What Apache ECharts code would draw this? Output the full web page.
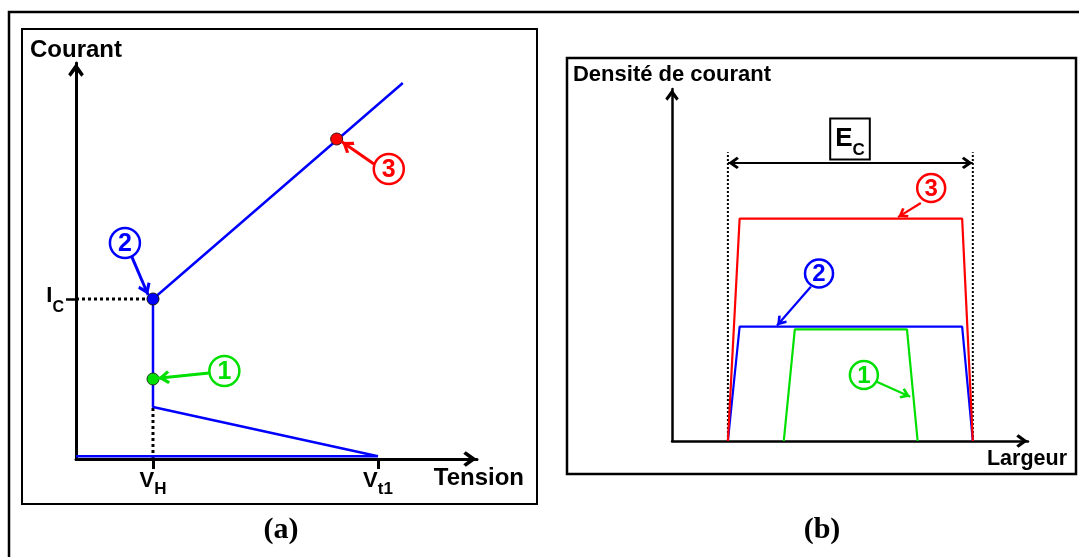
<!DOCTYPE html>
<html><head><meta charset="utf-8">
<script src="https://cdn.jsdelivr.net/npm/echarts@6/dist/echarts.min.js"></script>
<style>html,body{margin:0;padding:0;background:#fff}#c{width:1079px;height:557px}</style>
</head><body><div id="c"></div>
<script>
// ---------- Panel (a): Courant vs Tension ----------
const xTicksA = [1.92, 7.53];            // V_H, V_t1
const xTickMainA = ['V', 'V'];
const xTickSubA = ['H', 't1'];
const yTicksA = [4.0];                   // I_C
const yTickMainA = ['I'];
const yTickSubA = ['C'];
const curveA = [[0, 0.07], [7.53, 0.07], [1.92, 1.3], [1.92, 4.0], [8.15, 9.4]];
const icGuideA = [[0, 4.0], [1.92, 4.0]];
const vhGuideA = [[1.92, 0], [1.92, 1.3]];
const point1A = [1.92, 2.0];
const point2A = [1.92, 4.0];
const point3A = [6.5, 8.0];
const circleLabelsA = ['1', '2', '3'];
const circlePosA = [[3.7, 2.2], [1.22, 5.4], [7.8, 7.25]];
const arrow1A = [[3.32, 2.15], [2.04, 2.02]];
const arrow2A = [[1.39, 5.06], [1.8, 4.1]];
const arrow3A = [[7.43, 7.375], [6.63, 7.93]];

// ---------- Panel (b): Densité de courant vs Largeur ----------
const curve3B = [[1.57, 0], [1.9, 6.32], [8.15, 6.32], [8.45, 0]];
const curve2B = [[1.57, 0], [1.9, 3.25], [8.15, 3.25], [8.45, 0]];
const curve1B = [[3.14, 0], [3.45, 3.17], [6.6, 3.17], [6.9, 0]];
const ecGuideLeftB = [[1.57, 0], [1.57, 8.2]];
const ecGuideRightB = [[8.45, 0], [8.45, 8.2]];
const ecArrowB = [[1.57, 7.9], [8.45, 7.9]];
const ecLabelPosB = [5.0, 8.58];
const circleLabelsB = ['1', '2', '3'];
const circlePosB = [[5.39, 1.875], [4.13, 4.76], [7.28, 7.19]];
const arrow1B = [[5.75, 1.68], [6.69, 1.26]];
const arrow2B = [[3.9, 4.38], [2.95, 3.28]];
const arrow3B = [[6.99, 6.76], [6.35, 6.36]];

const FONT = "'Liberation Sans', Arial, sans-serif";
const BLUE = '#0000ff', RED = '#ff0000', GREEN = '#00e000';
const ARROW = 'path://M0,0L20,0L0,0Z M10,10 L15.6,17.8 L13.8,19.6 L10,14.6 L6.2,19.6 L4.4,17.8 Z';

function nearestIdx(arr, v) {
  let b = 0;
  arr.forEach((a, i) => { if (Math.abs(a - v) < Math.abs(arr[b] - v)) b = i; });
  return b;
}

const chart = echarts.init(document.getElementById('c'), null, {renderer: 'canvas'});

function arrowSeries(coordsList, color, width, size, gi) {
  return {
    type: 'lines', coordinateSystem: 'cartesian2d', xAxisIndex: gi, yAxisIndex: gi,
    symbol: ['none', ARROW], symbolSize: size, z: 5, silent: true,
    lineStyle: {color: color, width: width, opacity: 1, curveness: 0},
    data: coordsList.map(c => ({coords: c}))
  };
}
function circleSeries(labels, pos, color, size, fs, gi) {
  return {
    type: 'scatter', xAxisIndex: gi, yAxisIndex: gi, symbol: 'circle', symbolSize: size, z: 6,
    itemStyle: {color: '#fff', borderColor: color, borderWidth: 2.5, opacity: 1},
    label: {show: true, position: 'inside', offset: [0, 1], formatter: '{b}', color: color, fontSize: fs, fontWeight: 'bold', fontFamily: FONT},
    data: labels.map((l, i) => ({name: l, value: pos[i]}))
  };
}

const option = {
  animation: false,
  backgroundColor: '#fff',
  graphic: [
    {type: 'rect', shape: {x: 9, y: 12, width: 1100, height: 600}, style: {fill: 'none', stroke: '#000', lineWidth: 2.5}, z: -10},
    {type: 'rect', shape: {x: 22, y: 29, width: 515, height: 475}, style: {fill: 'none', stroke: '#000', lineWidth: 2}, z: -10},
    {type: 'rect', shape: {x: 567, y: 58, width: 509, height: 416}, style: {fill: 'none', stroke: '#000', lineWidth: 2.5}, z: -10},
    {type: 'text', x: 281, y: 530, style: {text: '(a)', align: 'center', verticalAlign: 'middle', font: "bold 30px 'Liberation Serif', 'Times New Roman', serif", fill: '#000'}},
    {type: 'text', x: 822, y: 530, style: {text: '(b)', align: 'center', verticalAlign: 'middle', font: "bold 30px 'Liberation Serif', 'Times New Roman', serif", fill: '#000'}}
  ],
  grid: [
    {left: 76, top: 63, width: 401, height: 396},
    {left: 672, top: 89, width: 356, height: 352}
  ],
  xAxis: [
    {
      type: 'value', gridIndex: 0, min: 0, max: 10,
      axisLine: {show: true, symbol: ['none', ARROW], symbolSize: [28, 28], lineStyle: {color: '#000', width: 3}},
      axisTick: {show: true, customValues: xTicksA, length: 10, lineStyle: {color: '#000', width: 3}},
      axisLabel: {
        show: true, customValues: xTicksA, margin: 5,
        formatter: v => { const i = nearestIdx(xTicksA, v); return '{v|' + xTickMainA[i] + '}{s|' + xTickSubA[i] + '}'; },
        rich: {
          v: {fontSize: 22, fontWeight: 'bold', fontFamily: FONT, color: '#000'},
          s: {fontSize: 17, fontWeight: 'bold', fontFamily: FONT, color: '#000', padding: [17, 0, 0, 0]}
        }
      },
      splitLine: {show: false},
      name: 'Tension', nameLocation: 'end', nameGap: 47,
      nameTextStyle: {fontSize: 24, fontWeight: 'bold', fontFamily: FONT, color: '#000', align: 'right', verticalAlign: 'top', padding: [7, 0, 0, 0]}
    },
    {
      type: 'value', gridIndex: 1, min: 0, max: 10,
      axisLine: {show: true, symbol: ['none', ARROW], symbolSize: [24, 24], lineStyle: {color: '#000', width: 2.5}},
      axisTick: {show: false}, axisLabel: {show: false}, splitLine: {show: false},
      name: 'Largeur', nameLocation: 'end', nameGap: 39,
      nameTextStyle: {fontSize: 21.5, fontWeight: 'bold', fontFamily: FONT, color: '#000', align: 'right', verticalAlign: 'top', padding: [7, 0, 0, 0]}
    }
  ],
  yAxis: [
    {
      type: 'value', gridIndex: 0, min: 0, max: 9.9,
      axisLine: {show: true, symbol: ['none', ARROW], symbolSize: [28, 28], lineStyle: {color: '#000', width: 3}},
      axisTick: {show: true, customValues: yTicksA, length: 10, lineStyle: {color: '#000', width: 2.5}},
      axisLabel: {
        show: true, customValues: yTicksA, margin: 12,
        formatter: v => { const i = nearestIdx(yTicksA, v); return '{v|' + yTickMainA[i] + '}{s|' + yTickSubA[i] + '}'; },
        rich: {
          v: {fontSize: 22, fontWeight: 'bold', fontFamily: FONT, color: '#000', padding: [0, 0, 6, 0]},
          s: {fontSize: 16, fontWeight: 'bold', fontFamily: FONT, color: '#000', padding: [18, 0, 0, 0]}
        }
      },
      splitLine: {show: false},
      name: 'Courant', nameLocation: 'end', nameGap: 1,
      nameTextStyle: {fontSize: 24, fontWeight: 'bold', fontFamily: FONT, color: '#000'}
    },
    {
      type: 'value', gridIndex: 1, min: 0, max: 10,
      axisLine: {show: true, symbol: ['none', ARROW], symbolSize: [24, 24], lineStyle: {color: '#000', width: 2.5}},
      axisTick: {show: false}, axisLabel: {show: false}, splitLine: {show: false},
      name: 'Densité de courant', nameLocation: 'end', nameGap: 3,
      nameTextStyle: {fontSize: 22, fontWeight: 'bold', fontFamily: FONT, color: '#000'}
    }
  ],
  series: [
    // Panel (a)
    {type: 'line', xAxisIndex: 0, yAxisIndex: 0, data: icGuideA, symbol: 'none', z: 2,
     lineStyle: {color: '#000', width: 3, type: [3, 3]}},
    {type: 'line', xAxisIndex: 0, yAxisIndex: 0, data: vhGuideA, symbol: 'none', z: 2,
     lineStyle: {color: '#000', width: 3, type: [3, 3]}},
    {type: 'line', xAxisIndex: 0, yAxisIndex: 0, data: curveA, symbol: 'none', z: 3,
     lineStyle: {color: BLUE, width: 2.5}},
    {type: 'scatter', xAxisIndex: 0, yAxisIndex: 0, symbolSize: 12, z: 4,
     itemStyle: {opacity: 1},
     data: [
       {value: point1A, itemStyle: {color: GREEN, borderColor: '#1a3a1a', borderWidth: 1, opacity: 1}},
       {value: point2A, itemStyle: {color: BLUE, borderColor: '#111', borderWidth: 1, opacity: 1}},
       {value: point3A, itemStyle: {color: RED, borderColor: '#3a1111', borderWidth: 1, opacity: 1}}
     ]},
    arrowSeries([arrow1A], GREEN, 3, 24, 0),
    arrowSeries([arrow2A], BLUE, 3, 24, 0),
    arrowSeries([arrow3A], RED, 3, 24, 0),
    circleSeries([circleLabelsA[0]], [circlePosA[0]], GREEN, 30, 25, 0),
    circleSeries([circleLabelsA[1]], [circlePosA[1]], BLUE, 30, 25, 0),
    circleSeries([circleLabelsA[2]], [circlePosA[2]], RED, 30, 25, 0),
    // Panel (b)
    {type: 'line', xAxisIndex: 1, yAxisIndex: 1, data: ecGuideLeftB, symbol: 'none', z: 2,
     lineStyle: {color: '#000', width: 2, type: [2, 2]}},
    {type: 'line', xAxisIndex: 1, yAxisIndex: 1, data: ecGuideRightB, symbol: 'none', z: 2,
     lineStyle: {color: '#000', width: 2, type: [2, 2]}},
    {type: 'line', xAxisIndex: 1, yAxisIndex: 1, data: curve1B, symbol: 'none', z: 3,
     lineStyle: {color: GREEN, width: 2.2}},
    {type: 'line', xAxisIndex: 1, yAxisIndex: 1, data: curve2B, symbol: 'none', z: 3,
     lineStyle: {color: BLUE, width: 2.2}},
    {type: 'line', xAxisIndex: 1, yAxisIndex: 1, data: curve3B, symbol: 'none', z: 3,
     lineStyle: {color: RED, width: 2.2}},
    {type: 'lines', coordinateSystem: 'cartesian2d', xAxisIndex: 1, yAxisIndex: 1,
     symbol: [ARROW, ARROW], symbolSize: 22, z: 5, silent: true,
     lineStyle: {color: '#000', width: 2, opacity: 1},
     data: [{coords: ecArrowB}]},
    {type: 'scatter', xAxisIndex: 1, yAxisIndex: 1, symbolSize: 0, z: 6,
     itemStyle: {opacity: 1},
     label: {show: true, position: 'inside', formatter: '{v|E}{s|C}',
       backgroundColor: '#fff', borderColor: '#000', borderWidth: 2, padding: [0, 4, 0, 4],
       rich: {
         v: {fontSize: 26, fontWeight: 'bold', fontFamily: FONT, color: '#000'},
         s: {fontSize: 17, fontWeight: 'bold', fontFamily: FONT, color: '#000', padding: [22, 0, 0, 0]}
       }},
     data: [ecLabelPosB]},
    arrowSeries([arrow1B], GREEN, 2.2, 20, 1),
    arrowSeries([arrow2B], BLUE, 2.2, 20, 1),
    arrowSeries([arrow3B], RED, 2.2, 20, 1),
    circleSeries([circleLabelsB[0]], [circlePosB[0]], GREEN, 28, 24, 1),
    circleSeries([circleLabelsB[1]], [circlePosB[1]], BLUE, 28, 24, 1),
    circleSeries([circleLabelsB[2]], [circlePosB[2]], RED, 28, 24, 1)
  ]
};
chart.setOption(option);
</script>
</body></html>
